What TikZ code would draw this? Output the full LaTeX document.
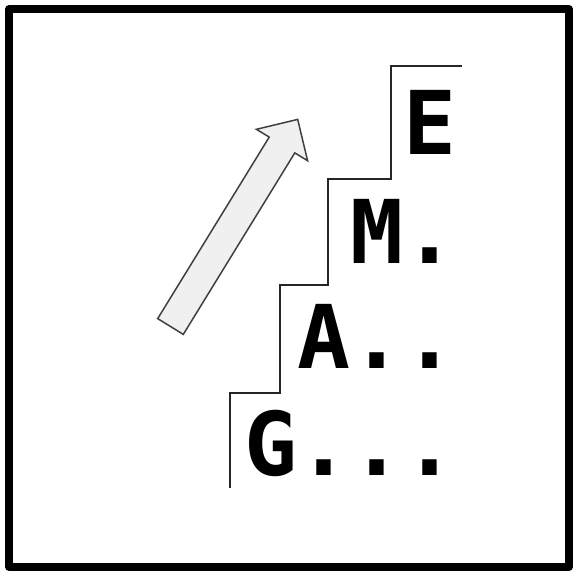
\documentclass[tikz,border=0pt]{standalone}
\usepackage{fontspec}
\newfontfamily\stairfont{DejaVu Sans Mono}
\usetikzlibrary{positioning}

\begin{document}
\begin{tikzpicture}[
  x=1pt, y=-1pt,
  frame/.style={draw, line width=7.5pt, line join=round},
  stair/.style={draw=black!85, line width=1.5pt},
  uparrow/.style={draw=black!75, fill=black!6, line width=1.5pt},
  letter/.style={anchor=base east, inner sep=0pt, font=\stairfont\bfseries\fontsize{88}{88}\selectfont}
]
\useasboundingbox (0,0) rectangle (574,571);
\draw[frame] (9,9) rectangle (569,567);

% the steps
\draw[stair] (230,488) |- (280,393) |- (328,285) |- (391,179) |- (462,66);

\node[letter] (e) at (457,154) {E};
\node[letter] (m) at (457,263) {M.};
\node[letter] (a) at (457,368) {A..};
\node[letter] (g) at (457,475) {G...};

% arrow going up
\draw[uparrow] (157.7,318.6) -- (269.2,137.1) -- (256.4,129.3) -- (297.7,119.4)
  -- (307.6,160.7) -- (294.8,152.9) -- (183.3,334.4) -- cycle;

\end{tikzpicture}
\end{document}
